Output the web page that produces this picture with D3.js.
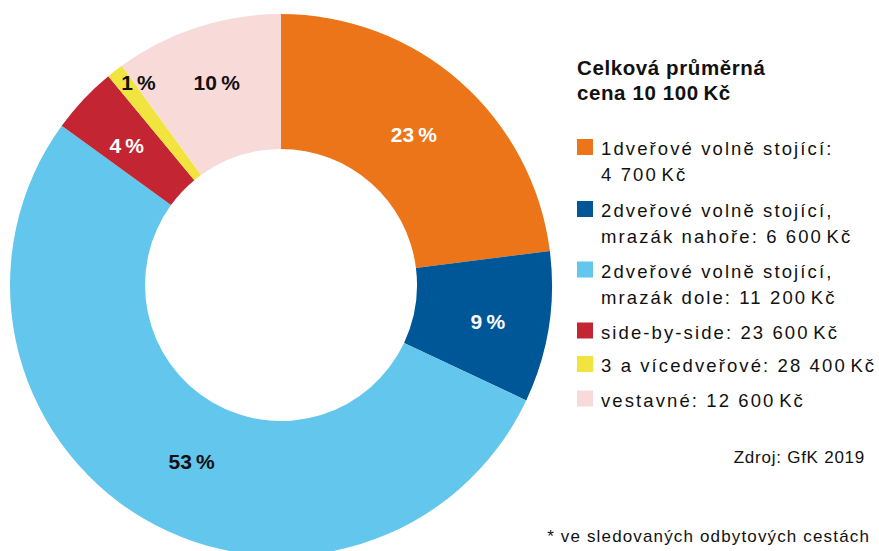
<!DOCTYPE html>
<html>
<head>
<meta charset="utf-8">
<script src="https://cdn.jsdelivr.net/npm/d3@7/dist/d3.min.js"></script>
<style>
  html, body { margin: 0; padding: 0; background: #fff; }
  svg { display: block; font-family: "Liberation Sans", Arial, sans-serif; }
</style>
</head>
<body>
<svg id="chart" width="879" height="551"></svg>
<script>
// ---- data ----
const categories = [
  "1dveřové volně stojící",
  "2dveřové volně stojící, mrazák nahoře",
  "2dveřové volně stojící, mrazák dole",
  "side-by-side",
  "3 a vícedveřové",
  "vestavné"
];
const shares = [23, 9, 53, 4, 1, 10];
const shareLabels = ["23\u2009%", "9\u2009%", "53\u2009%", "4\u2009%", "1\u2009%", "10\u2009%"];
const legendLines = [
  ["1dveřové volně stojící:", "4 700\u200AKč"],
  ["2dveřové volně stojící,", "mrazák nahoře: 6 600\u200AKč"],
  ["2dveřové volně stojící,", "mrazák dole: 11 200\u200AKč"],
  ["side-by-side: 23 600\u200AKč"],
  ["3 a vícedveřové: 28 400\u200AKč"],
  ["vestavné: 12 600\u200AKč"]
];
const colors = ["#EC7519", "#005797", "#63C6EC", "#C32533", "#F1E43F", "#F8DBD8"];
const labelColors = ["#fff", "#fff", "#111", "#fff", "#111", "#111"];
const titleLines = ["Celková průměrná", "cena 10 100\u2009Kč"];
const sourceText = "Zdroj: GfK 2019";
const footnoteText = "* ve sledovaných odbytových cestách";

// ---- layout ----
const svg = d3.select("#chart");
const cx = 281, cy = 285, rOuter = 271, rInner = 136, rLabel = 213;
// small manual label nudges (dx, dy) relative to the centroid
const labelNudge = [[-8, 9], [-3.5, 3], [19, -7], [1, 6], [-12, -34], [1.5, 0]];

const pie = d3.pie().sort(null).value(d => d);
const arcs = pie(shares);
const arc = d3.arc().innerRadius(rInner).outerRadius(rOuter);
const labelArc = d3.arc().innerRadius(rLabel).outerRadius(rLabel);

const g = svg.append("g").attr("transform", `translate(${cx},${cy})`);
g.selectAll("path").data(arcs).join("path")
  .attr("d", arc)
  .attr("fill", (d, i) => colors[i]);

g.selectAll("text").data(arcs).join("text")
  .attr("x", (d, i) => labelArc.centroid(d)[0] + labelNudge[i][0])
  .attr("y", (d, i) => labelArc.centroid(d)[1] + labelNudge[i][1] + 7.5)
  .attr("text-anchor", "middle")
  .attr("font-size", 21)
  .attr("font-weight", "bold")
  .attr("fill", (d, i) => labelColors[i])
  .text((d, i) => shareLabels[i]);

// ---- legend ----
const lx = 577, tx = 601;
const title = svg.append("g");
titleLines.forEach((t, i) => {
  title.append("text").attr("x", lx).attr("y", 75 + i * 25)
    .attr("font-size", 20.5).attr("letter-spacing", 0.6)
    .attr("font-weight", "bold").attr("fill", "#111").text(t);
});

const itemBaselines = [155, 217, 277.5, 338.5, 372, 406.5];
const lineGap = 26.3;
const leg = svg.append("g");
legendLines.forEach((lines, i) => {
  const y0 = itemBaselines[i];
  leg.append("rect").attr("x", lx).attr("y", y0 - 16).attr("width", 16).attr("height", 16)
    .attr("fill", colors[i]);
  lines.forEach((t, j) => {
    leg.append("text").attr("x", tx).attr("y", y0 + j * lineGap)
      .attr("font-size", 18.5).attr("letter-spacing", 2.1)
      .attr("fill", "#111").text(t);
  });
});

svg.append("text").attr("x", 865).attr("y", 462.5).attr("text-anchor", "end")
  .attr("font-size", 17).attr("letter-spacing", 0.75)
  .attr("fill", "#111").text(sourceText);
svg.append("text").attr("x", 870).attr("y", 541.5).attr("text-anchor", "end")
  .attr("font-size", 17).attr("letter-spacing", 1.15)
  .attr("fill", "#111").text(footnoteText);
</script>
</body>
</html>
